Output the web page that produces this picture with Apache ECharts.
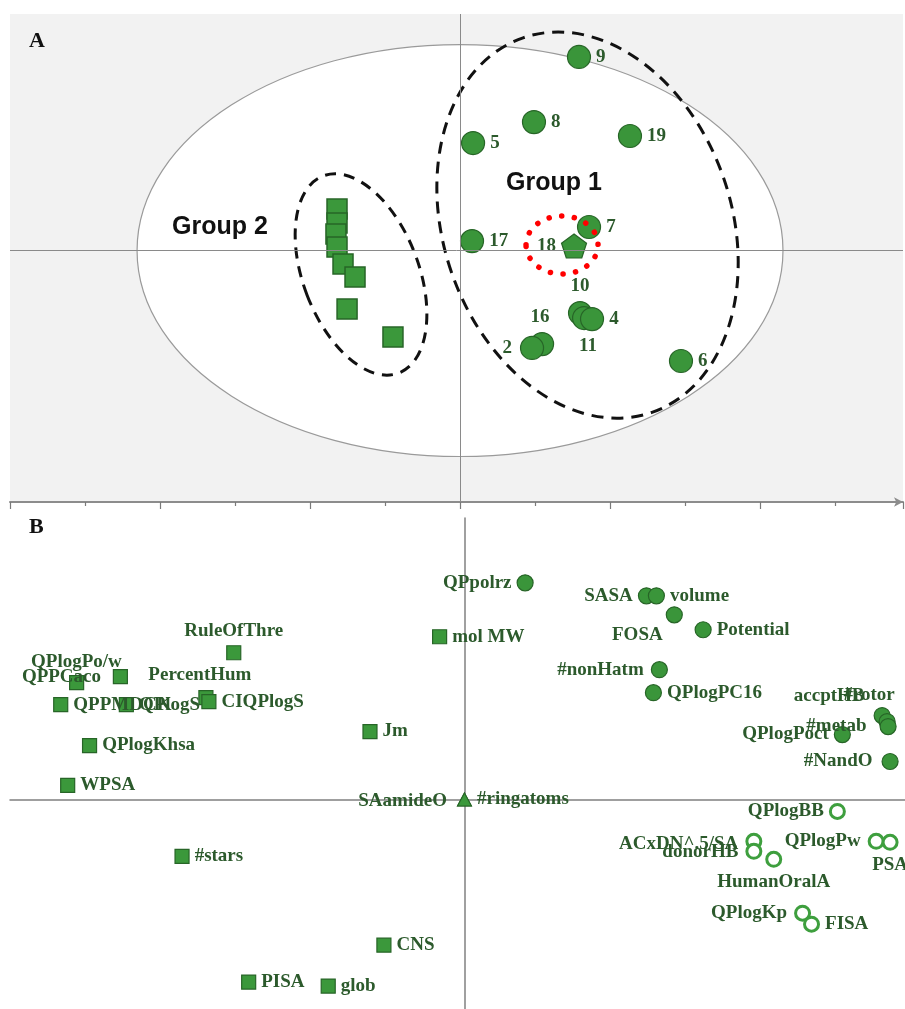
<!DOCTYPE html>
<html><head><meta charset="utf-8">
<script src="https://cdn.jsdelivr.net/npm/echarts@6/dist/echarts.min.js"></script>
<style>html,body{margin:0;padding:0;background:#fff}#c{width:905px;height:1009px}</style>
</head><body><div id="c"></div>
<script>
// ---------- Panel A: scores ----------
const groupOneIds = ['9','8','5','19','7','17','10','11','4','16','2','6'];
const groupOneX = [0.793,0.493,0.087,1.133,0.86,0.08,0.80,0.827,0.88,0.547,0.48,1.473];
const groupOneY = [1.293,0.858,0.718,0.765,0.157,0.063,-0.418,-0.451,-0.458,-0.625,-0.651,-0.738];
const referenceIds = ['18'];
const referenceX = [0.76];
const referenceY = [0.03];
const groupTwoX = [-0.82,-0.82,-0.827,-0.82,-0.78,-0.70,-0.753,-0.447];
const groupTwoY = [0.277,0.184,0.11,0.023,-0.09,-0.177,-0.391,-0.578];
// ellipses: [centre x, centre y, radius x, radius y, tilt in degrees]
const hotellingEllipse = [0, 0, 2.153, 1.376, 0];
const groupOneEllipse = [0.85, 0.17, 0.96, 1.323, 19];
const groupTwoEllipse = [-0.66, -0.16, 0.385, 0.705, 21];
const highlightEllipse = [0.68, 0.037, 0.24, 0.194, 0];

// ---------- Panel B: loadings ----------
const squareNames = ['RuleOfThre','QPlogPo/w','QPPCaco','PercentHum','CIQPlogS','QPPMDCK','QPlogS','QPlogKhsa','WPSA','#stars','CNS','PISA','glob','Jm','mol MW'];
const squareX = [-0.232,-0.346,-0.39,-0.26,-0.257,-0.406,-0.34,-0.377,-0.399,-0.284,-0.081,-0.217,-0.137,-0.095,-0.025];
const squareY = [0.147,0.123,0.117,0.102,0.098,0.095,0.095,0.054,0.014,-0.057,-0.146,-0.183,-0.187,0.068,0.163];
const triangleNames = ['SAamideO','#ringatoms'];
const triangleX = [0, 0];
const triangleY = [0, 0];
const dotNames = ['QPpolrz','SASA','volume','FOSA','Potential','#nonHatm','QPlogPC16','accptHB','#rotor','#metab','QPlogPoct','#NandO'];
const dotX = [0.061,0.183,0.193,0.211,0.24,0.196,0.19,0.42,0.425,0.426,0.38,0.428];
const dotY = [0.217,0.204,0.204,0.185,0.17,0.13,0.107,0.084,0.078,0.073,0.065,0.038];
const ringNames = ['QPlogBB','QPlogPw','PSA','ACxDN^.5/SA','donorHB','HumanOralA','QPlogKp','FISA'];
const ringX = [0.375,0.414,0.428,0.291,0.291,0.311,0.34,0.349];
const ringY = [-0.012,-0.042,-0.043,-0.042,-0.052,-0.06,-0.114,-0.125];

// label placement (style only): [position, offsetX, offsetY]
const placeA = {'18':['left',0,0],'10':['top',0,0],'11':['bottom',4,1],'16':['top',-2,0],'2':['left',-3,0]};
const placeB = {
  'RuleOfThre':['top',0,0],'QPlogPo/w':['left',14,-15],'QPPCaco':['left',37,-6],'PercentHum':['top',-6,0],
  'SAamideO':['left',-5,2],'QPpolrz':['left',0,0],'SASA':['left',0,0],'FOSA':['left',2,20],
  '#nonHatm':['left',-2,0],'accptHB':['left',-4,-20],'#rotor':['top',-18,-3],'#metab':['left',-8,0],
  'QPlogPoct':['left',0,0],'#NandO':['left',-4,0],'QPlogBB':['left',0,0],'QPlogPw':['left',-2,0],
  'PSA':['bottom',0,0],'ACxDN^.5/SA':['left',-2,3],'donorHB':['left',-2,1],'HumanOralA':['bottom',0,0],
  'QPlogKp':['left',-2,0]
};

const green = '#3a953a', greenEdge = '#276527', labelColor = '#2c5a2c';
const serif = '"Liberation Serif","Times New Roman",serif';

function items(names, xs, ys, place) {
  return xs.map((x, i) => {
    const n = names ? names[i] : '';
    const p = (place && place[n]) || ['right', 0, 0];
    return {name: n, value: [x, ys[i]], label: {position: p[0], offset: [p[1], p[2]]}};
  });
}
const labelStyle = {show: true, formatter: '{b}', fontFamily: serif, fontWeight: 'bold', fontSize: 19, color: labelColor, distance: 5, opacity: 1};

function ellipseSeries(par, style, z) {
  return {
    type: 'custom', xAxisIndex: 0, yAxisIndex: 0, z: z, silent: true,
    data: [par], encode: {x: 0, y: 1},
    renderItem: function (p, api) {
      const c = api.coord([api.value(0), api.value(1)]);
      const s = api.size([api.value(2), api.value(3)]);
      return {type: 'ellipse', x: c[0], y: c[1], rotation: api.value(4) * Math.PI / 180,
        shape: {cx: 0, cy: 0, rx: s[0], ry: s[1]}, style: style};
    }
  };
}

const pentagon = 'path://M0,-10 L9.51,-3.09 L5.88,8.09 L-5.88,8.09 L-9.51,-3.09 Z';

const option = {
  animation: false,
  backgroundColor: '#ffffff',
  grid: [
    {left: 10, top: 14, width: 893, height: 488, show: true, backgroundColor: '#f2f2f2', borderWidth: 0},
    {left: 10, top: 518, width: 900, height: 492, show: false}
  ],
  xAxis: [
    {gridIndex: 0, type: 'value', min: -3, max: 2.953, interval: 1, position: 'bottom',
     axisLine: {show: true, onZero: false, lineStyle: {color: '#8c8c8c', width: 2}, symbol: ['none', 'arrow'], symbolSize: [7, 9]},
     axisTick: {show: true, length: 7, lineStyle: {color: '#7a7a7a', width: 1.2}},
     minorTick: {show: true, splitNumber: 2, length: 4, lineStyle: {color: '#7a7a7a', width: 1.2}},
     axisLabel: {show: false}, splitLine: {show: false}},
    {gridIndex: 1, type: 'value', min: -0.457, max: 0.443,
     axisLine: {show: true, onZero: true, lineStyle: {color: '#808080', width: 1.5}},
     axisTick: {show: false}, axisLabel: {show: false}, splitLine: {show: false}}
  ],
  yAxis: [
    {gridIndex: 0, type: 'value', min: -1.68, max: 1.58, show: false},
    {gridIndex: 1, type: 'value', min: -0.21, max: 0.282,
     axisLine: {show: true, onZero: true, lineStyle: {color: '#808080', width: 1.5}},
     axisTick: {show: false}, axisLabel: {show: false}, splitLine: {show: false}}
  ],
  graphic: [
    {type: 'text', left: 29, top: 30, style: {text: 'A', font: 'bold 22px ' + serif, fill: '#111'}},
    {type: 'text', left: 29, top: 516, style: {text: 'B', font: 'bold 22px ' + serif, fill: '#111'}},
    {type: 'text', left: 506, top: 171, z: 10, style: {text: 'Group 1', font: 'bold 25px "Liberation Sans", Arial, sans-serif', fill: '#111'}},
    {type: 'text', left: 172, top: 215, z: 10, style: {text: 'Group 2', font: 'bold 25px "Liberation Sans", Arial, sans-serif', fill: '#111'}}
  ],
  series: [
    ellipseSeries(hotellingEllipse, {fill: '#ffffff', stroke: '#9a9a9a', lineWidth: 1.2}, 1),
    {type: 'scatter', xAxisIndex: 0, yAxisIndex: 0, z: 2, silent: true, data: [],
     markLine: {silent: true, symbol: 'none', label: {show: false},
       lineStyle: {color: '#8a8a8a', width: 1, type: 'solid'},
       data: [{xAxis: 0}, {yAxis: 0}]}},
    ellipseSeries(groupOneEllipse, {fill: 'none', stroke: '#111', lineWidth: 3, lineDash: [12, 8]}, 3),
    ellipseSeries(groupTwoEllipse, {fill: 'none', stroke: '#111', lineWidth: 3, lineDash: [11, 8]}, 3),
    {type: 'scatter', xAxisIndex: 0, yAxisIndex: 0, z: 4, symbol: 'rect', symbolSize: 20,
     itemStyle: {color: '#3b983b', borderColor: greenEdge, borderWidth: 1.5, opacity: 1},
     data: items(null, groupTwoX, groupTwoY)},
    {type: 'scatter', xAxisIndex: 0, yAxisIndex: 0, z: 4, symbol: 'circle', symbolSize: 23,
     itemStyle: {color: green, borderColor: greenEdge, borderWidth: 1.2, opacity: 1},
     label: labelStyle, data: items(groupOneIds, groupOneX, groupOneY, placeA)},
    {type: 'scatter', xAxisIndex: 0, yAxisIndex: 0, z: 4, symbol: pentagon, symbolSize: [25, 24],
     itemStyle: {color: green, borderColor: greenEdge, borderWidth: 1.2, opacity: 1},
     label: labelStyle, data: items(referenceIds, referenceX, referenceY, placeA)},
    ellipseSeries(highlightEllipse, {fill: 'none', stroke: '#ff0000', lineWidth: 5.5, lineDash: [0.1, 12.6], lineCap: 'round'}, 5),
    // panel B
    {type: 'scatter', xAxisIndex: 1, yAxisIndex: 1, z: 4, symbol: 'rect', symbolSize: 14,
     itemStyle: {color: '#3b983b', borderColor: greenEdge, borderWidth: 1.2, opacity: 1},
     label: labelStyle, data: items(squareNames, squareX, squareY, placeB)},
    {type: 'scatter', xAxisIndex: 1, yAxisIndex: 1, z: 4, symbol: 'triangle', symbolSize: [14, 13],
     itemStyle: {color: '#3b983b', borderColor: greenEdge, borderWidth: 1, opacity: 1},
     label: labelStyle, data: items(triangleNames, triangleX, triangleY, placeB)},
    {type: 'scatter', xAxisIndex: 1, yAxisIndex: 1, z: 4, symbol: 'circle', symbolSize: 16,
     itemStyle: {color: green, borderColor: greenEdge, borderWidth: 1.2, opacity: 1},
     label: labelStyle, data: items(dotNames, dotX, dotY, placeB)},
    {type: 'scatter', xAxisIndex: 1, yAxisIndex: 1, z: 4, symbol: 'circle', symbolSize: 14,
     itemStyle: {color: '#ffffff', borderColor: '#3e9f3e', borderWidth: 3, opacity: 1},
     label: labelStyle, data: items(ringNames, ringX, ringY, placeB)}
  ]
};
const chart = echarts.init(document.getElementById('c'));
chart.setOption(option);
</script>
</body></html>
